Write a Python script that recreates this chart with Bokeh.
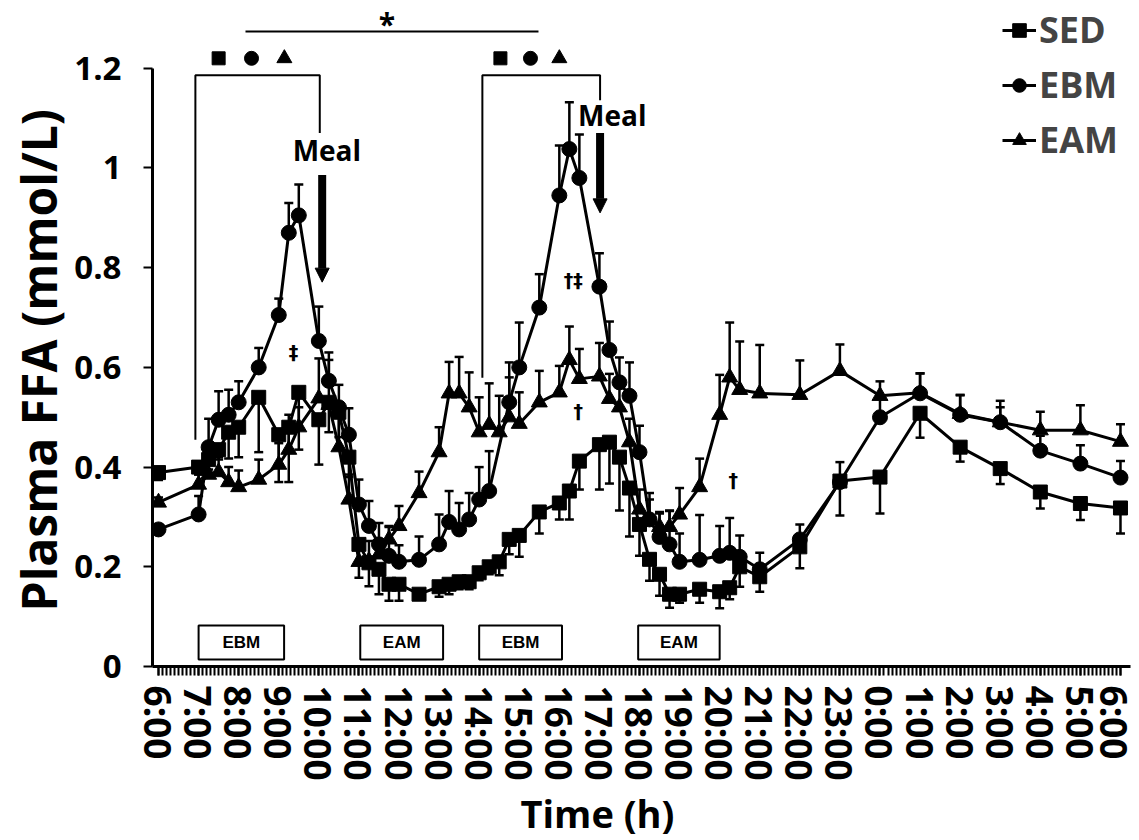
import math
import numpy as np
from bokeh.plotting import figure
from bokeh.models import (ColumnDataSource, Whisker, TeeHead, FixedTicker, Legend, LegendItem,
                          Arrow, NormalHead, Range1d, Title)
from bokeh.core.properties import value
from bokeh.embed import file_html
from bokeh.resources import INLINE

# ---------------- data ----------------
TIMES = ["6:00", "7:00", "7:15", "7:30", "7:45", "8:00", "8:30", "9:00", "9:15", "9:30",
         "10:00", "10:15", "10:30", "10:45", "11:00", "11:15", "11:30", "11:45", "12:00", "12:30",
         "13:00", "13:15", "13:30", "13:45", "14:00", "14:15", "14:30", "14:45", "15:00", "15:30",
         "16:00", "16:15", "16:30", "17:00", "17:15", "17:30", "17:45", "18:00", "18:15", "18:30",
         "18:45", "19:00", "19:30", "20:00", "20:15", "20:30", "21:00", "22:00", "23:00", "0:00",
         "1:00", "2:00", "3:00", "4:00", "5:00", "6:00"]

SED = [0.389, 0.400, 0.415, 0.435, 0.470, 0.480, 0.540, 0.465, 0.480, 0.550,
       0.495, 0.530, 0.510, 0.420, 0.245, 0.208, 0.195, 0.165, 0.165, 0.145,
       0.160, 0.165, 0.170, 0.170, 0.188, 0.200, 0.210, 0.255, 0.263, 0.310,
       0.328, 0.352, 0.412, 0.445, 0.450, 0.420, 0.358, 0.285, 0.215, 0.185,
       0.145, 0.145, 0.155, 0.150, 0.158, 0.200, 0.180, 0.240, 0.372, 0.380,
       0.508, 0.440, 0.397, 0.350, 0.327, 0.318]
SED_SEM = [0.015, 0.015, 0.020, 0.020, 0.053, 0.060, 0.110, 0.095, 0.110, 0.115,
           0.090, 0.060, 0.050, 0.040, 0.067, 0.047, 0.050, 0.033, 0.033, 0.010,
           0.020, 0.020, 0.015, 0.015, 0.015, 0.015, 0.027, 0.030, 0.043, 0.043,
           0.033, 0.057, 0.057, 0.090, 0.083, 0.107, 0.097, 0.063, 0.043, 0.043,
           0.027, 0.017, 0.027, 0.033, 0.023, 0.040, 0.030, 0.043, 0.069, 0.073,
           0.049, 0.029, 0.031, 0.033, 0.033, 0.051]

EBM = [0.275, 0.305, 0.440, 0.495, 0.505, 0.530, 0.600, 0.705, 0.870, 0.905,
       0.653, 0.573, 0.520, 0.465, 0.325, 0.282, 0.245, 0.222, 0.210, 0.214,
       0.245, 0.290, 0.275, 0.295, 0.335, 0.352, None, 0.530, 0.600, 0.720,
       0.945, 1.038, 0.980, 0.762, 0.635, 0.570, 0.543, 0.430, 0.295, 0.260,
       0.245, 0.210, 0.214, 0.222, 0.228, 0.220, 0.195, 0.255, 0.370, 0.500,
       0.548, 0.505, 0.490, 0.433, 0.407, 0.379]
EBM_SEM = [0.010, 0.037, 0.057, 0.057, 0.050, 0.042, 0.039, 0.033, 0.060, 0.062,
           0.069, 0.057, 0.045, 0.053, 0.050, 0.050, 0.043, 0.060, 0.033, 0.047,
           0.060, 0.062, 0.053, 0.053, 0.065, 0.080, None, 0.080, 0.090, 0.067,
           0.100, 0.094, 0.087, 0.067, 0.057, 0.050, 0.067, 0.053, 0.053, 0.047,
           0.067, 0.057, 0.090, 0.060, 0.070, 0.043, 0.033, 0.030, 0.040, 0.040,
           0.040, 0.040, 0.030, 0.030, 0.037, 0.033]

EAM = [0.329, 0.365, 0.385, 0.390, 0.370, 0.360, 0.375, 0.405, 0.435, 0.480,
       0.538, 0.525, 0.440, 0.335, 0.210, 0.212, 0.225, 0.255, 0.282, 0.348,
       0.430, 0.548, 0.548, 0.520, 0.470, 0.485, 0.470, 0.500, 0.487, 0.530,
       0.550, 0.615, 0.577, 0.582, 0.537, 0.520, 0.450, 0.315, 0.295, 0.280,
       0.280, 0.305, 0.360, 0.505, 0.580, 0.555, 0.548, 0.545, 0.593, 0.543,
       0.549, 0.507, 0.490, 0.474, 0.474, 0.451]
EAM_SEM = [0.010, 0.020, 0.030, 0.030, 0.030, 0.033, 0.040, 0.043, 0.070, 0.040,
           0.080, 0.090, 0.060, 0.050, 0.040, 0.040, 0.030, 0.025, 0.040, 0.043,
           0.050, 0.063, 0.073, 0.070, 0.070, 0.083, 0.073, 0.080, 0.063, 0.063,
           0.053, 0.067, 0.060, 0.067, 0.050, 0.060, 0.047, 0.040, 0.040, 0.030,
           0.033, 0.053, 0.057, 0.080, 0.110, 0.097, 0.097, 0.069, 0.053, 0.029,
           0.039, 0.037, 0.043, 0.037, 0.050, 0.035]

X_TICK_LABELS = ["6:00", "7:00", "8:00", "9:00", "10:00", "11:00", "12:00", "13:00", "14:00",
                 "15:00", "16:00", "17:00", "18:00", "19:00", "20:00", "21:00", "22:00", "23:00",
                 "0:00", "1:00", "2:00", "3:00", "4:00", "5:00", "6:00"]
Y_TICKS = [0, 0.2, 0.4, 0.6, 0.8, 1, 1.2]
Y_TICK_LABELS = ["0", "0.2", "0.4", "0.6", "0.8", "1", "1.2"]

# exercise sessions (label, start, end) and meals
EXERCISE = [("EBM", "7:00", "9:08"), ("EAM", "11:02", "13:06"),
            ("EBM", "14:00", "16:04"), ("EAM", "17:58", "20:00")]
MEALS = ["10:05", "17:01"]


def clock_to_hours(seq):
    out, offset, prev = [], 0.0, None
    for s in seq:
        h, m = s.split(":")
        v = int(h) + int(m) / 60.0 + offset
        if prev is not None and v < prev:
            offset += 24.0
            v += 24.0
        out.append(v)
        prev = v
    return out


def one_clock(s):
    h, m = s.split(":")
    v = int(h) + int(m) / 60.0
    return v if v >= 6 else v + 24


hours = clock_to_hours(TIMES)
tick_pos = clock_to_hours(X_TICK_LABELS)

FONT = "Open Sans"

p = figure(width=1139, height=840, output_backend="svg", toolbar_location=None,
           x_range=Range1d(5.85, 30.25), y_range=Range1d(0, 1.336),
           min_border_left=152, min_border_right=9, min_border_top=0, min_border_bottom=173)
p.grid.visible = False
p.outline_line_color = None
p.background_fill_color = "white"

# ---------------- axes ----------------
xa = p.xaxis[0]
minor = [float(v) for v in np.arange(6.0, 30.0001, 0.1)]
xa.ticker = FixedTicker(ticks=[int(round(t)) for t in tick_pos], minor_ticks=minor)
xa.major_label_overrides = {int(round(t)): lab for t, lab in zip(tick_pos, X_TICK_LABELS)}
xa.major_label_orientation = "vertical"
xa.axis_line_width = 3
xa.major_tick_line_width = 2
xa.minor_tick_line_width = 2
xa.major_tick_in = 0
xa.major_tick_out = 9
xa.minor_tick_in = 0
xa.minor_tick_out = 9
xa.major_label_text_font = FONT
xa.major_label_text_font_style = "bold"
xa.major_label_text_font_size = "37px"
xa.major_label_text_color = "black"
xa.major_label_standoff = 10

ya = p.yaxis[0]
ya.ticker = FixedTicker(ticks=Y_TICKS, minor_ticks=[])
ya.major_label_overrides = {t: lab for t, lab in zip(Y_TICKS, Y_TICK_LABELS)}
ya.bounds = (0, 1.2)
ya.axis_line_width = 3
ya.major_tick_line_width = 2
ya.major_tick_in = 0
ya.major_tick_out = 9
ya.minor_tick_line_color = None
ya.major_label_text_font = FONT
ya.major_label_text_font_style = "bold"
ya.major_label_text_font_size = "33px"
ya.major_label_text_color = "black"
ya.major_label_standoff = 22

# axis titles placed along their axes like the reference
p.add_layout(Title(text="Plasma FFA (mmol/L)", align="left", offset=55, standoff=2,
                   text_font=FONT, text_font_style="bold", text_font_size="48px",
                   text_color="black"), "left")
p.add_layout(Title(text="Time (h)", align="left", offset=368, standoff=3,
                   text_font=FONT, text_font_style="bold", text_font_size="38px",
                   text_color="black"), "below")

# ---------------- series ----------------
series = [("SED", SED, SED_SEM, "square", 14, "down"),
          ("EBM", EBM, EBM_SEM, "circle", 15, "up"),
          ("EAM", EAM, EAM_SEM, "triangle", 16, "up")]

items = []
for name, vals, sems, marker, size, direction in series:
    xs, ys, lo, hi = [], [], [], []
    for h, v, e in zip(hours, vals, sems):
        if v is None:
            continue
        xs.append(h)
        ys.append(v)
        if direction == "up":
            lo.append(v)
            hi.append(v + e)
        else:
            lo.append(v - e)
            hi.append(v)
    src = ColumnDataSource(dict(x=xs, y=ys, lo=lo, hi=hi))
    head = TeeHead(size=9, line_width=2.5, line_color="black")
    if direction == "up":
        w = Whisker(source=src, base="x", lower="lo", upper="hi", line_width=2.5,
                    line_color="black", upper_head=head, lower_head=None)
    else:
        w = Whisker(source=src, base="x", lower="lo", upper="hi", line_width=2.5,
                    line_color="black", lower_head=head, upper_head=None)
    w.level = "underlay"
    p.add_layout(w)
    rl = p.line("x", "y", source=src, line_width=3, line_color="black")
    rs = p.scatter("x", "y", source=src, marker=marker, size=size,
                   fill_color="black", line_color="black")
    items.append(LegendItem(label=name, renderers=[rl, rs]))

legend = Legend(items=items, location=(850, 502))
legend.label_text_font = FONT
legend.label_text_font_style = "bold"
legend.label_text_font_size = "36px"
legend.glyph_width = 34
legend.glyph_height = 48
legend.label_height = 48
legend.spacing = 6
legend.padding = 0
legend.margin = 0
legend.label_standoff = 3
legend.background_fill_alpha = 0
legend.border_line_alpha = 0
p.add_layout(legend)

# ---------------- annotations ----------------
# exercise boxes
ex_l = [one_clock(s) for _, s, _ in EXERCISE]
ex_r = [one_clock(e) for _, _, e in EXERCISE]
p.quad(left=ex_l, right=ex_r, bottom=0.014, top=0.082, fill_color="white",
       line_color="black", line_width=2)
p.text(x=[(a + b) / 2 for a, b in zip(ex_l, ex_r)], y=0.048,
       text=[lab for lab, _, _ in EXERCISE], text_font=value("Liberation Sans"),
       text_font_style="bold", text_font_size="17px", text_align="center",
       text_baseline="middle", text_color="black")

# brackets
m1, m2 = one_clock(MEALS[0]), one_clock(MEALS[1])
p.line(x=[6.92, 6.92, m1 - 0.06, m1 - 0.06], y=[0.455, 1.186, 1.186, 1.07],
       line_width=2, line_color="black")
p.line(x=[14.08, 14.08, m2, m2], y=[0.579, 1.186, 1.186, 1.136],
       line_width=2, line_color="black")
p.line(x=[8.17, 15.48], y=[1.274, 1.274], line_width=2, line_color="black")
p.text(x=[11.7], y=[1.29], text=["*"], text_font=value(FONT), text_font_style="bold",
       text_font_size="30px", text_align="center", text_baseline="alphabetic")
p.scatter(x=[7.5, 8.32, 9.14, 14.53, 15.28, 16.0], y=1.22,
          marker=["square", "circle", "triangle", "square", "circle", "triangle"],
          size=[13, 14, 15, 13, 14, 15], fill_color="black", line_color="black")

# meal arrows
p.add_layout(Arrow(x_start=m1, y_start=0.986, x_end=m1, y_end=0.771, line_width=8,
                   line_color="black",
                   end=NormalHead(size=14, fill_color="black", line_color="black", line_width=1)))
p.add_layout(Arrow(x_start=m2, y_start=1.07, x_end=m2, y_end=0.91, line_width=8,
                   line_color="black",
                   end=NormalHead(size=14, fill_color="black", line_color="black", line_width=1)))
p.text(x=[10.2, 17.32], y=[1.036, 1.106], text=["Meal", "Meal"], text_font=value(FONT),
       text_font_style="bold", text_font_size="28px", text_align="center",
       text_baseline="middle", text_color="black")

# significance symbols
p.text(x=[9.37, 16.35, 16.47, 20.34], y=[0.631, 0.776, 0.513, 0.375],
       text=["‡", "†‡", "†", "†"], text_font=value("DejaVu Sans"), text_font_style="bold",
       text_font_size="19px", text_align="center", text_baseline="middle",
       text_color="black")

open("out.html", "w").write(file_html(p, INLINE))
